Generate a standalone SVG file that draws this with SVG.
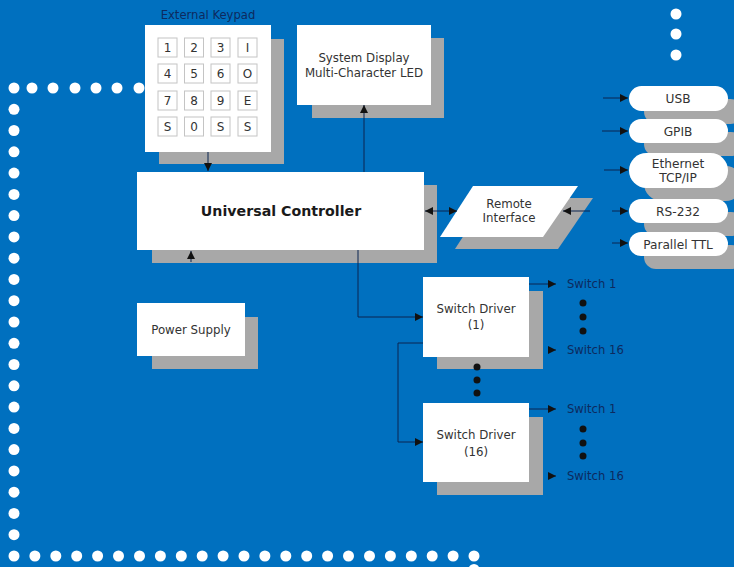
<svg xmlns="http://www.w3.org/2000/svg" width="734" height="567" viewBox="0 0 734 567">
<defs>
<style>
.bg{fill:#0070bf}
.dot{fill:#ffffff}
.sh{fill:#a8a8a8}
.box{fill:#ffffff}
.key{fill:#ffffff;stroke:#c4c4c4;stroke-width:1}
.t{font-family:"DejaVu Sans","Liberation Sans",sans-serif;font-size:11.8px;fill:#333333;text-anchor:middle}
.tp{font-family:"DejaVu Sans","Liberation Sans",sans-serif;font-size:12.2px;fill:#333333;text-anchor:middle}
.tb{font-family:"DejaVu Sans","Liberation Sans",sans-serif;font-size:14.2px;font-weight:bold;fill:#1a1a1a;text-anchor:middle}
.lab{font-family:"DejaVu Sans","Liberation Sans",sans-serif;font-size:11.6px;fill:#0d2a5e}
.k{font-family:"DejaVu Sans","Liberation Sans",sans-serif;font-size:12px;fill:#333333;text-anchor:middle}
.ln{fill:none;stroke:#0b2550;stroke-width:1}
.bd{fill:#111111}
</style>
<marker id="ah" viewBox="0 0 8 8" refX="8" refY="4" markerWidth="8" markerHeight="8" markerUnits="userSpaceOnUse" orient="auto">
<path d="M0,0 L8,4 L0,8 Z" fill="#111111"/>
</marker>
</defs>
<rect class="bg" x="0" y="0" width="734" height="567"/>

<g id="border-dots">
<circle class="dot" cx="676" cy="14" r="5.5"/><circle class="dot" cx="676" cy="34" r="5.5"/><circle class="dot" cx="676" cy="55" r="5.5"/>
<circle class="dot" cx="32" cy="88" r="5.5"/><circle class="dot" cx="53" cy="88" r="5.5"/><circle class="dot" cx="75" cy="88" r="5.5"/><circle class="dot" cx="96" cy="88" r="5.5"/><circle class="dot" cx="117" cy="88" r="5.5"/><circle class="dot" cx="139" cy="88" r="5.5"/>
<circle class="dot" cx="14" cy="88" r="5.5"/><circle class="dot" cx="14" cy="109.3" r="5.5"/><circle class="dot" cx="14" cy="130.5" r="5.5"/><circle class="dot" cx="14" cy="151.8" r="5.5"/><circle class="dot" cx="14" cy="173.1" r="5.5"/><circle class="dot" cx="14" cy="194.4" r="5.5"/><circle class="dot" cx="14" cy="215.6" r="5.5"/><circle class="dot" cx="14" cy="236.9" r="5.5"/><circle class="dot" cx="14" cy="258.2" r="5.5"/><circle class="dot" cx="14" cy="279.4" r="5.5"/><circle class="dot" cx="14" cy="300.7" r="5.5"/><circle class="dot" cx="14" cy="322" r="5.5"/><circle class="dot" cx="14" cy="343.3" r="5.5"/><circle class="dot" cx="14" cy="364.5" r="5.5"/><circle class="dot" cx="14" cy="385.8" r="5.5"/><circle class="dot" cx="14" cy="407.1" r="5.5"/><circle class="dot" cx="14" cy="428.4" r="5.5"/><circle class="dot" cx="14" cy="449.6" r="5.5"/><circle class="dot" cx="14" cy="470.9" r="5.5"/><circle class="dot" cx="14" cy="492.2" r="5.5"/><circle class="dot" cx="14" cy="513.4" r="5.5"/><circle class="dot" cx="14" cy="534.7" r="5.5"/>
<circle class="dot" cx="14" cy="556" r="5.5"/><circle class="dot" cx="34.9" cy="556" r="5.5"/><circle class="dot" cx="55.8" cy="556" r="5.5"/><circle class="dot" cx="76.7" cy="556" r="5.5"/><circle class="dot" cx="97.6" cy="556" r="5.5"/><circle class="dot" cx="118.5" cy="556" r="5.5"/><circle class="dot" cx="139.5" cy="556" r="5.5"/><circle class="dot" cx="160.4" cy="556" r="5.5"/><circle class="dot" cx="181.3" cy="556" r="5.5"/><circle class="dot" cx="202.2" cy="556" r="5.5"/><circle class="dot" cx="223.1" cy="556" r="5.5"/><circle class="dot" cx="244" cy="556" r="5.5"/><circle class="dot" cx="264.9" cy="556" r="5.5"/><circle class="dot" cx="285.8" cy="556" r="5.5"/><circle class="dot" cx="306.7" cy="556" r="5.5"/><circle class="dot" cx="327.6" cy="556" r="5.5"/><circle class="dot" cx="348.5" cy="556" r="5.5"/><circle class="dot" cx="369.5" cy="556" r="5.5"/><circle class="dot" cx="390.4" cy="556" r="5.5"/><circle class="dot" cx="411.3" cy="556" r="5.5"/><circle class="dot" cx="432.2" cy="556" r="5.5"/><circle class="dot" cx="453.1" cy="556" r="5.5"/><circle class="dot" cx="474" cy="556" r="5.5"/><circle class="dot" cx="474" cy="569.5" r="5.5"/>
</g>

<g id="keypad">
<rect class="sh" x="159" y="39" width="125" height="125"/>
<rect class="box" x="145" y="25" width="126" height="127"/>
<text class="lab" x="208" y="19" text-anchor="middle">External Keypad</text>
<rect class="key" x="158" y="38" width="19" height="19"/><rect class="key" x="184.5" y="38" width="19" height="19"/><rect class="key" x="211" y="38" width="19" height="19"/><rect class="key" x="238" y="38" width="19" height="19"/>
<rect class="key" x="158" y="64" width="19" height="19"/><rect class="key" x="184.5" y="64" width="19" height="19"/><rect class="key" x="211" y="64" width="19" height="19"/><rect class="key" x="238" y="64" width="19" height="19"/>
<rect class="key" x="158" y="91" width="19" height="19"/><rect class="key" x="184.5" y="91" width="19" height="19"/><rect class="key" x="211" y="91" width="19" height="19"/><rect class="key" x="238" y="91" width="19" height="19"/>
<rect class="key" x="158" y="117" width="19" height="19"/><rect class="key" x="184.5" y="117" width="19" height="19"/><rect class="key" x="211" y="117" width="19" height="19"/><rect class="key" x="238" y="117" width="19" height="19"/>
<text class="k" x="167.5" y="52">1</text><text class="k" x="194" y="52">2</text><text class="k" x="220.5" y="52">3</text><text class="k" x="247.5" y="52">I</text>
<text class="k" x="167.5" y="78">4</text><text class="k" x="194" y="78">5</text><text class="k" x="220.5" y="78">6</text><text class="k" x="247.5" y="78">O</text>
<text class="k" x="167.5" y="105">7</text><text class="k" x="194" y="105">8</text><text class="k" x="220.5" y="105">9</text><text class="k" x="247.5" y="105">E</text>
<text class="k" x="167.5" y="131">S</text><text class="k" x="194" y="131">0</text><text class="k" x="220.5" y="131">S</text><text class="k" x="247.5" y="131">S</text>
</g>

<g id="system-display">
<rect class="sh" x="312" y="38" width="132" height="80"/>
<rect class="box" x="297" y="25" width="134" height="80"/>
<text class="t" x="364" y="62">System Display</text>
<text class="t" x="364" y="77">Multi-Character LED</text>
</g>

<g id="universal-controller">
<rect class="sh" x="152" y="185" width="285" height="78"/>
<rect class="box" x="137" y="172" width="287" height="78"/>
<text class="tb" x="281" y="216">Universal Controller</text>
</g>

<g id="remote-interface">
<polygon class="sh" points="488,198 593,198 558,249 455,249"/>
<polygon class="box" points="473,186 578,186 543,237 440,237"/>
<text class="t" x="509" y="208">Remote</text>
<text class="t" x="509" y="222">Interface</text>
</g>

<g id="power-supply">
<rect class="sh" x="152" y="317" width="106" height="52"/>
<rect class="box" x="137" y="303" width="108" height="53"/>
<text class="t" x="191" y="334">Power Supply</text>
</g>

<g id="usb">
<rect class="sh" x="644" y="99" width="99" height="25" rx="12.5"/>
<rect class="box" x="629" y="86" width="99" height="25" rx="12.5"/>
<text class="tp" x="678" y="103">USB</text>
</g>
<g id="gpib">
<rect class="sh" x="644" y="132" width="99" height="24" rx="12"/>
<rect class="box" x="629" y="119" width="99" height="24" rx="12"/>
<text class="tp" x="678" y="136">GPIB</text>
</g>
<g id="ethernet">
<rect class="sh" x="644" y="166" width="99" height="35" rx="17.5"/>
<rect class="box" x="629" y="153" width="99" height="35" rx="17.5"/>
<text class="tp" x="678" y="168">Ethernet</text>
<text class="tp" x="678" y="182">TCP/IP</text>
</g>
<g id="rs232">
<rect class="sh" x="644" y="212" width="99" height="24" rx="12"/>
<rect class="box" x="629" y="199" width="99" height="24" rx="12"/>
<text class="tp" x="678" y="216">RS-232</text>
</g>
<g id="parallel-ttl">
<rect class="sh" x="644" y="245" width="99" height="24" rx="12"/>
<rect class="box" x="629" y="232" width="99" height="24" rx="12"/>
<text class="tp" x="678" y="249">Parallel TTL</text>
</g>

<g id="switch-driver-1">
<rect class="sh" x="437" y="291" width="106" height="78"/>
<rect class="box" x="423" y="277" width="106" height="80"/>
<text class="t" x="476" y="313">Switch Driver</text>
<text class="t" x="476" y="329">(1)</text>
</g>
<g id="switch-driver-16">
<rect class="sh" x="437" y="417" width="106" height="78"/>
<rect class="box" x="423" y="403" width="106" height="79"/>
<text class="t" x="476" y="439">Switch Driver</text>
<text class="t" x="476" y="456">(16)</text>
</g>

<g id="connectors">
<line class="ln" x1="208" y1="152" x2="208" y2="171" marker-end="url(#ah)"/>
<line class="ln" x1="364" y1="172" x2="364" y2="105" marker-end="url(#ah)"/>
<line class="ln" x1="191" y1="262" x2="191" y2="251" marker-end="url(#ah)"/>
<line class="ln" x1="440" y1="211" x2="425" y2="211" marker-end="url(#ah)"/>
<line class="ln" x1="440" y1="211" x2="457" y2="211" marker-end="url(#ah)"/>
<line class="ln" x1="590" y1="211" x2="563" y2="211" marker-end="url(#ah)"/>
<polyline class="ln" points="358,250 358,317 423,317" marker-end="url(#ah)"/>
<polyline class="ln" points="423,343 398,343 398,442 423,442" marker-end="url(#ah)"/>
<line class="ln" x1="603" y1="98" x2="628" y2="98" marker-end="url(#ah)"/>
<line class="ln" x1="602" y1="131" x2="628" y2="131" marker-end="url(#ah)"/>
<line class="ln" x1="604" y1="170" x2="628" y2="170" marker-end="url(#ah)"/>
<line class="ln" x1="612" y1="211" x2="628" y2="211" marker-end="url(#ah)"/>
<line class="ln" x1="612" y1="243" x2="628" y2="243" marker-end="url(#ah)"/>
<line class="ln" x1="529" y1="284" x2="556" y2="284" marker-end="url(#ah)"/>
<line class="ln" x1="548" y1="350" x2="556" y2="350" marker-end="url(#ah)"/>
<line class="ln" x1="529" y1="409" x2="556" y2="409" marker-end="url(#ah)"/>
<line class="ln" x1="548" y1="476" x2="556" y2="476" marker-end="url(#ah)"/>
<circle class="bd" cx="583" cy="303" r="3.5"/><circle class="bd" cx="583" cy="317" r="3.5"/><circle class="bd" cx="583" cy="331" r="3.5"/>
<circle class="bd" cx="583" cy="429" r="3.5"/><circle class="bd" cx="583" cy="443" r="3.5"/><circle class="bd" cx="583" cy="456" r="3.5"/>
<circle class="bd" cx="477" cy="367" r="3.5"/><circle class="bd" cx="477" cy="380" r="3.5"/><circle class="bd" cx="477" cy="393" r="3.5"/>
</g>

<g id="switch-labels">
<text class="lab" x="567" y="288">Switch 1</text>
<text class="lab" x="567" y="354">Switch 16</text>
<text class="lab" x="567" y="413">Switch 1</text>
<text class="lab" x="567" y="480">Switch 16</text>
</g>
</svg>
